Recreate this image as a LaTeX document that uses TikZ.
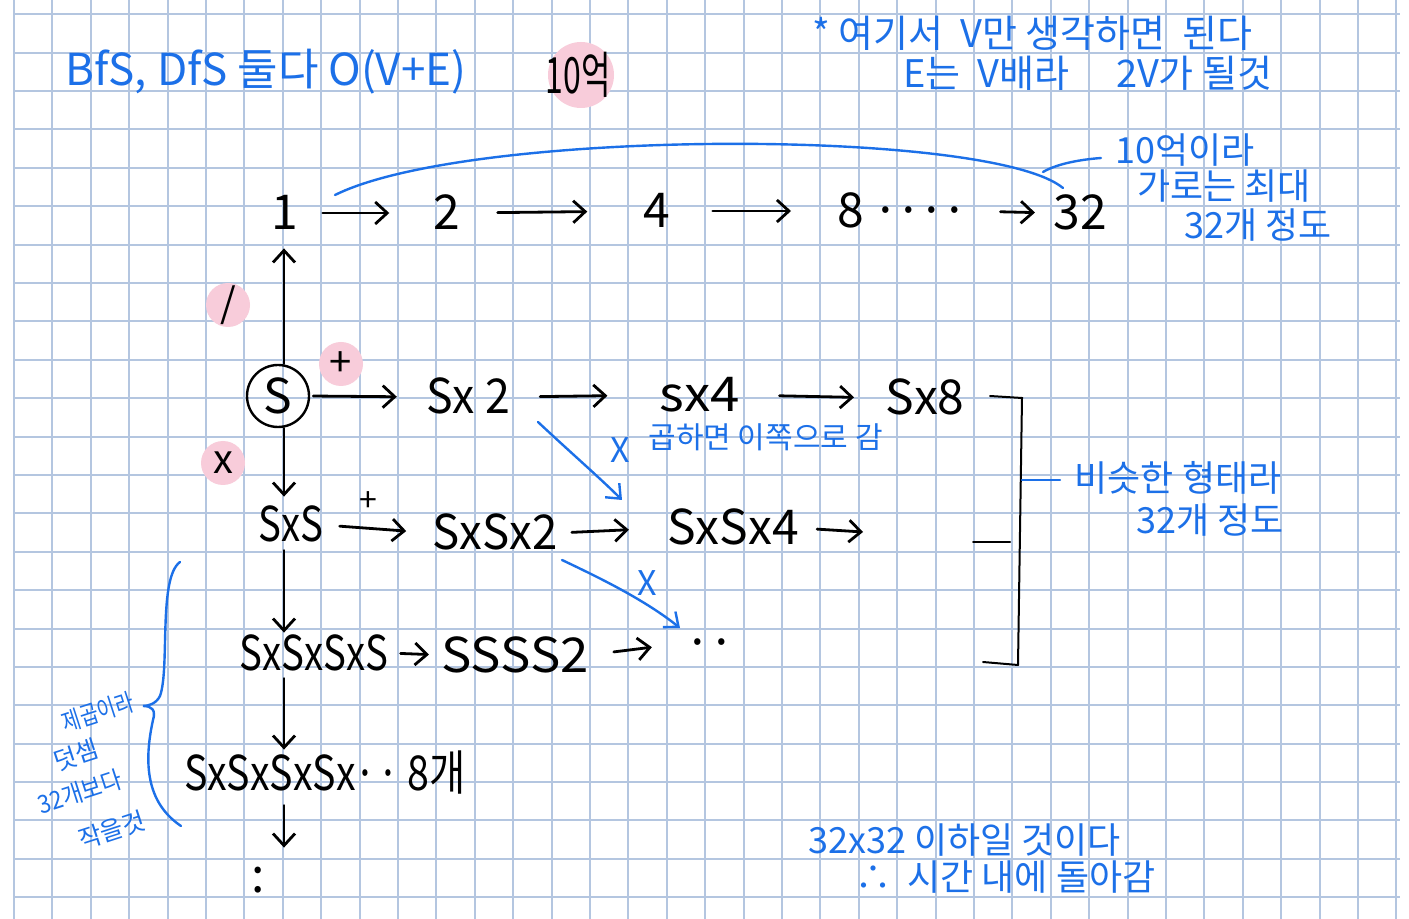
\documentclass[tikz,border=0pt]{standalone}
\usepackage{fontspec}
\setmainfont{Noto Sans CJK KR}
\usetikzlibrary{arrows.meta}
\definecolor{gridc}{RGB}{180,198,224}
\definecolor{pen}{RGB}{28,112,232}
\definecolor{blush}{RGB}{248,204,218}
\begin{document}
\begin{tikzpicture}[x=0.5pt,y=-0.5pt,
  ink/.style={font=\fontsize{24}{26}\selectfont, inner sep=0pt, text height=17pt, text depth=0pt},
  note/.style={font=\fontsize{19}{21}\selectfont, text=pen, inner sep=0pt},
  lnote/.style={note, rotate=18, font=\fontsize{12.5}{14}\selectfont},
  small/.style={font=\fontsize{16}{18}\selectfont, inner sep=0pt},
  arr/.style={line width=1.4pt, line cap=round, -{Straight Barb[length=6pt,width=11pt,line width=1.4pt]}},
  barr/.style={draw=pen, line width=1.2pt, line cap=round, -{Straight Barb[length=6pt,width=10pt,line width=1.2pt]}},
  bline/.style={draw=pen, line width=1.2pt, line cap=round},
  kline/.style={draw=black, line width=1pt, line cap=round},
  blob/.style={circle, fill=blush, inner sep=0pt, minimum size=22pt, font=\fontsize{20}{22}\selectfont}
]
\useasboundingbox (0,0) rectangle (1409,919);
\fill[white] (0,0) rectangle (1409,919);
% grid
\foreach \k in {0,...,36} \draw[gridc, line width=1pt] ({14+38.4*\k},0) -- ({14+38.4*\k},919);
\foreach \k in {0,...,23} \draw[gridc, line width=1pt] (14,{14.3+38.39*\k}) -- (1400,{14.3+38.39*\k});

% notes at top
\node[note, font=\fontsize{22}{24}\selectfont] (bfs) at (266,72) {BfS, DfS 둘다 O(V+E)};
\fill[blush] (581,75) circle (33);
\node[inner sep=0pt, font=\fontsize{25}{27}\selectfont] (eok) at (578,75) {\scalebox{0.64}[1]{10억}};
\node[note, anchor=west] (tr1) at (812,33) {* 여기서 \ V만 생각하면 \ 된다};
\node[note, anchor=west] (tr2) at (903,73) {E는 \ V배라 \quad 2V가 될것};

% top row
\node[ink] (t1) at (285,213) {1};
\node[ink] (t2) at (447,213) {2};
\node[ink] (t4) at (657,211) {4};
\node[ink, anchor=west] (t8) at (837,211) {8\hspace{5pt}\makebox[11.5pt]{·}\makebox[11.5pt]{·}\makebox[11.5pt]{·}\makebox[11.5pt]{·}};
\node[ink] (t32) at (1080,213) {32};
\draw[arr, shorten <=12pt, shorten >=22pt] (t1.east) -- (t2.west);
\draw[arr, shorten <=18.5pt, shorten >=28pt] (t2.east) -- (t4.west);
\draw[arr, shorten <=21pt, shorten >=23pt] (t4.east) -- (t8.west);
\draw[arr, shorten <=17pt, shorten >=9pt] (t8.east) -- (t32.west);

% big blue arc and its note
\coordinate (arcA) at (335,195);
\coordinate (arcB) at (1063,188);
\draw[bline] (arcA) .. controls (470,128) and (990,128) .. (arcB);
\node[note, font=\fontsize{18}{20}\selectfont] (n10a) at (1185,150) {10억이라};
\node[note, font=\fontsize{18}{20}\selectfont] (n10b) at (1224,186) {가로는 최대};
\node[note, font=\fontsize{18}{20}\selectfont] (n10c) at (1258,225) {32개 정도};
\coordinate (lead) at (1043,172);
\draw[bline] (n10a.west) ++(-14,8) .. controls (1075,160) and (1055,165) .. (lead);

% S and second row
\node[circle, draw, line width=1.2pt, minimum size=31pt, inner sep=0pt, font=\fontsize{24}{26}\selectfont] (S) at (278,396) {S};
\node[blob] (pdiv) at (228,305) {/};
\node[blob] (pplus) at (341,364) {+};
\node[blob] (pmul) at (223,463) {x};
\node[ink] (r2a) at (468,397) {\scalebox{0.93}[1]{Sx 2}};
\node[ink] (r2b) at (700,395) {\scalebox{1.1}[1]{sx4}};
\node[ink] (r2c) at (925,398) {Sx8};
\draw[arr, shorten <=1.5pt, shorten >=14.5pt] (S.east) -- (r2a.west);
\draw[arr, shorten <=15pt, shorten >=26pt] (r2a.east) -- (r2b.west);
\draw[arr, shorten <=19.5pt, shorten >=15.5pt] (r2b.east) -- (r2c.west);

\node[note, font=\fontsize{17}{19}\selectfont] (bx1) at (620,450) {X};
\node[note, anchor=west, font=\fontsize{15}{17}\selectfont] (gop) at (648,437) {곱하면 이쪽으로 감};

% third row
\node[ink] (r3a) at (291,525) {\scalebox{0.8}[1]{SxS}};
\node[small] (plus3) at (368,502) {+};
\node[ink] (r3b) at (495,533) {\scalebox{0.95}[1]{SxSx2}};
\node[ink] (r3c) at (733,528) {SxSx4};
\coordinate (e3) at (863,532);
\draw[arr, shorten <=8pt, shorten >=13pt] (r3a.east) -- (r3b.west);
\draw[arr, shorten <=7pt, shorten >=19pt] (r3b.east) -- (r3c.west);
\draw[arr, shorten <=9pt] (r3c.east) -- (e3);

% blue diagonal arrows
\coordinate (d1s) at (538,422);
\coordinate (d1e) at (622,500);
\draw[barr] (d1s) .. controls (570,452) and (600,478) .. (d1e);
\coordinate (d2s) at (562,560);
\coordinate (d2e) at (680,628);
\draw[barr] (d2s) .. controls (600,578) and (645,600) .. (d2e);
\node[note, font=\fontsize{17}{19}\selectfont] (bx2) at (647,583) {X};

% fourth row
\node[ink] (r4a) at (314,653) {\scalebox{0.8}[1]{SxSxSxS}};
\node[ink] (r4b) at (515,655) {\scalebox{1.06}[1]{SSSS2}};
\node[ink] (r4c) at (710,643) {\makebox[12pt]{·}\makebox[12pt]{·}};
\draw[arr, shorten <=6pt, shorten >=6pt] (r4a.east) -- (r4b.west);
\draw[arr, shorten <=12.5pt, shorten >=17pt] (r4b.east) -- (r4c.west);

% fifth row
\node[ink] (r5) at (325,773) {\scalebox{0.82}[1]{SxSxSxSx·· 8개}};
\node[ink] (r6) at (258,875) {:};

% vertical spine
\coordinate (spine) at (284,0);
\draw[arr, shorten >=9pt] (spine |- S.north) -- (spine |- t1.south);
\draw[arr, shorten >=5.5pt] (spine |- S.south) -- (spine |- r3a.north);
\draw[arr, shorten <=4pt, shorten >=1.5pt] (spine |- r3a.south) -- (spine |- r4a.north);
\draw[arr, shorten <=4pt, shorten >=3pt] (spine |- r4a.south) -- (spine |- r5.north);
\draw[arr, shorten <=7.5pt, shorten >=5pt] (spine |- r5.south) -- (spine |- r6.north);

% right bracket
\coordinate (bkA) at (990,396);
\coordinate (bkB) at (1022,398);
\coordinate (bkC) at (1018,665);
\coordinate (bkD) at (983,662);
\coordinate (bkM) at (973,542);
\coordinate (bkN) at (1010,542);
\draw[kline] (bkA) -- (bkB) -- (bkC);
\draw[kline] (bkD) -- (bkC);
\draw[kline] (bkM) -- (bkN);
\node[note, font=\fontsize{18}{20}\selectfont] (sim1) at (1178,478) {비슷한 형태라};
\node[note, font=\fontsize{18}{20}\selectfont] (sim2) at (1210,520) {32개 정도};
\coordinate (simL) at (1060,480);
\draw[bline] (bkB |- simL) -- (simL);

% left brace and notes
\coordinate (brA) at (180,562);
\coordinate (brT) at (143,706);
\coordinate (brZ) at (181,826);
\draw[bline] (brA) .. controls (158,578) and (170,668) .. (160,696) .. controls (156,704) and (148,706) .. (brT)
  .. controls (152,706) and (156,710) .. (153,720) .. controls (142,770) and (150,805) .. (brZ);
\node[lnote] (lb1) at (98,712) {\scalebox{0.8}[1]{제곱이라}};
\node[lnote] (lb2) at (76,755) {덧셈};
\node[lnote] (lb3) at (80,792) {\scalebox{0.9}[1]{32개보다}};
\node[lnote] (lb4) at (112,830) {작을것};

% bottom notes
\node[note, anchor=west, font=\fontsize{18}{20}\selectfont] (bot1) at (808,840) {32x32 이하일 것이다};
\node[note, anchor=west, font=\fontsize{18}{20}\selectfont] (bot2) at (855,877) {∴ \ 시간 내에 돌아감};
\end{tikzpicture}
\end{document}
